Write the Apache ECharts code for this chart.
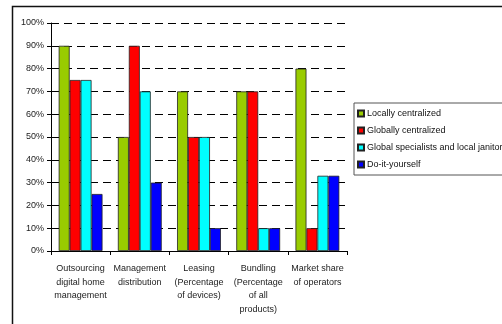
<!DOCTYPE html>
<html>
<head>
<meta charset="utf-8">
<script src="https://cdn.jsdelivr.net/npm/echarts@6/dist/echarts.min.js"></script>
<style>
  html, body { margin: 0; padding: 0; background: #fff; }
  #chart { width: 502px; height: 324px; }
</style>
</head>
<body>
<div id="chart"></div>
<script>
// Categories (x axis)
const categories = [
  'Outsourcing\ndigital home\nmanagement',
  'Management\ndistribution',
  'Leasing\n(Percentage\nof devices)',
  'Bundling\n(Percentage\nof all\nproducts)',
  'Market share\nof operators'
];

// Series values, in percent
const locallyCentralized = [90, 50, 70, 70, 80];
const globallyCentralized = [75, 90, 50, 70, 10];
const globalSpecialists = [75, 70, 50, 10, 33];
const doItYourself = [25, 30, 10, 10, 33];

const seriesNames = [
  'Locally centralized',
  'Globally centralized',
  'Global specialists and local janitors',
  'Do-it-yourself'
];
const seriesData = [locallyCentralized, globallyCentralized, globalSpecialists, doItYourself];
const seriesColors = ['#99cc00', '#ff0000', '#00ffff', '#0000ff'];

const FONT = '"Liberation Sans", Arial, sans-serif';

const chart = echarts.init(document.getElementById('chart'), null, { renderer: 'canvas' });

chart.setOption({
  animation: false,
  backgroundColor: '#fff',
  textStyle: { fontFamily: FONT },
  graphic: [{
    type: 'rect',
    shape: { x: 12.5, y: 6.5, width: 500, height: 330 },
    style: { fill: 'none', stroke: '#111', lineWidth: 1.5 },
    z: -1
  }],
  grid: { left: 51, top: 23, right: 155, bottom: 73 },
  legend: {
    orient: 'vertical',
    left: 354,
    top: 103,
    padding: [5, 6, 5, 3],
    itemWidth: 6,
    itemHeight: 6,
    itemGap: 6,
    icon: 'rect',
    backgroundColor: '#fff',
    borderColor: '#555',
    borderWidth: 1,
    textStyle: { fontFamily: FONT, fontSize: 9, color: '#111', lineHeight: 11, padding: [0, 0, 0, -2] },
    data: seriesNames
  },
  xAxis: {
    type: 'category',
    data: categories,
    axisLine: { lineStyle: { color: '#000', width: 1 } },
    axisTick: { show: true, length: 4, lineStyle: { color: '#000' } },
    axisLabel: {
      interval: 0,
      fontFamily: FONT,
      fontSize: 9,
      color: '#222',
      lineHeight: 13.5,
      margin: 11
    }
  },
  yAxis: {
    type: 'value',
    min: 0,
    max: 100,
    interval: 10,
    axisLine: { show: true, lineStyle: { color: '#000', width: 1 } },
    axisTick: { show: true, length: 4, lineStyle: { color: '#000' } },
    axisLabel: {
      formatter: '{value}%',
      fontFamily: FONT,
      fontSize: 9,
      color: '#222',
      margin: 7
    },
    splitLine: {
      show: true,
      lineStyle: { color: '#000', type: [8, 5], width: 1 }
    }
  },
  series: seriesData.map((data, i) => ({
    name: seriesNames[i],
    type: 'bar',
    data: data,
    barGap: '0%',
    barCategoryGap: '26%',
    itemStyle: {
      color: seriesColors[i],
      borderColor: '#222',
      borderWidth: 0.8
    }
  }))
});
</script>
</body>
</html>
